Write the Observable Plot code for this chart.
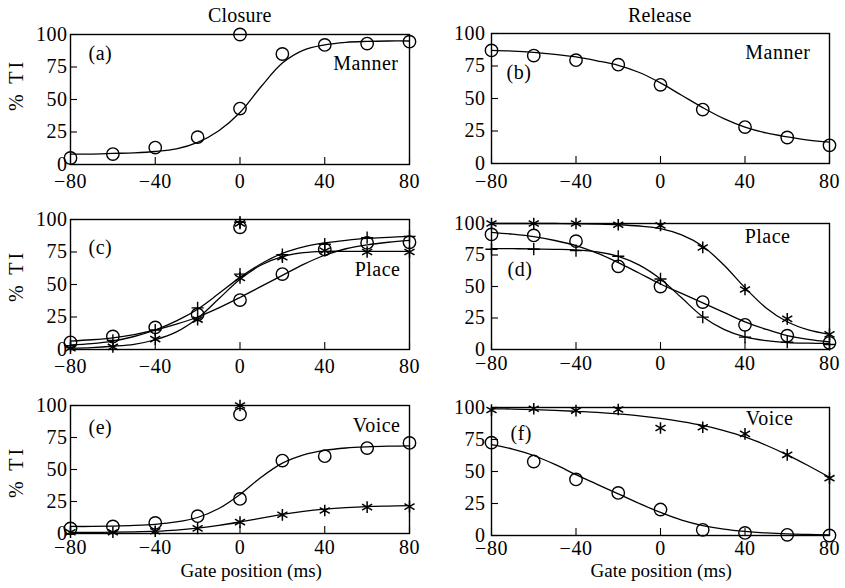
<!DOCTYPE html>
<html>
<head>
<meta charset="utf-8">
<script src="https://cdn.jsdelivr.net/npm/d3@7"></script>
<script src="https://cdn.jsdelivr.net/npm/@observablehq/plot@0.6"></script>
<style>
  html, body { margin: 0; padding: 0; background: white; }
  #wrap { position: relative; width: 845px; height: 588px; font-family: "Liberation Serif", "Times New Roman", serif; color: black; }
  #wrap svg { position: absolute; overflow: visible; }
  .lbl { position: absolute; font-size: 20px; letter-spacing: 0.2px; white-space: nowrap; line-height: 1; }
  .xlbl { position: absolute; font-size: 19px; letter-spacing: 0px; white-space: nowrap; line-height: 1; }
  .ylab { position: absolute; font-size: 20px; letter-spacing: 3px; white-space: nowrap; line-height: 1; transform-origin: center; }
</style>
</head>
<body>
<div id="wrap"></div>
<script>
// ---------- data ----------
const gates = [-80, -60, -40, -20, 0, 20, 40, 60, 80];
const fitGates = [-80, -70, -60, -50, -40, -30, -20, -10, 0, 10, 20, 30, 40, 50, 60, 70, 80];
const xTicks = [-80, -40, 0, 40, 80];
const yTicks = [0, 25, 50, 75, 100];
const columnTitles = ["Closure", "Release"];
const xTitle = "Gate position (ms)";
const yTitle = "% TI";

// (a) Closure – Manner
const aCircle = [5, 8, 13, 21, 43, 85, 92, 93, 94.5];
const aCircleFit = [8, 8, 8.5, 9, 10, 12, 17, 26, 40, 60, 78, 88, 92, 94, 94.7, 95, 95];
const aExtraCircle = [{x: 0, y: 100}];

// (b) Release – Manner
const bCircle = [87, 83, 79.5, 76, 60.5, 41.5, 28, 20, 14];
const bCircleFit = [87, 86.5, 85.5, 84, 82, 79, 75.5, 70, 62, 52.5, 43, 34.5, 28, 23.5, 20.5, 18, 16.5];

// (c) Closure – Place
const cCircle = [5.5, 10, 17, 27, 38, 58, 77, 82, 82.5];
const cPlus = [3, 7, 15, 32, 58, 73, 81, 86, 87];
const cStar = [1, 2, 8, 23, 55, 71, 76, 75, 75];
const cCircleFit = [6.5, 7.5, 9, 11.5, 15, 19.5, 25, 32, 40, 48.5, 57, 65.5, 72.5, 77.5, 80.5, 82.5, 84];
const cPlusFit = [3.5, 4.5, 6.5, 10, 15, 22, 31, 43, 55.5, 66, 74, 79, 82, 84, 85.5, 86.3, 87];
const cStarFit = [1, 1.5, 2.5, 4, 7.5, 13.5, 24, 39, 54, 65, 71.5, 74.5, 75.5, 75.5, 75.5, 75.5, 75.5];
const cBars = [{y: 95.5, x1: -10, x2: 10}, {y: 96.3, x1: -9, x2: 9.5}, {y: 97, x1: -8, x2: 8}];
const cExtraCircle = [{x: 0, y: 94}];
const cExtraPlus = [{x: 0, y: 98}];
const cExtraStar = [{x: 0, y: 97}];

// (d) Release – Place
const dCircle = [91.3, 90.5, 86, 66, 50, 37.6, 19.6, 11, 5.3];
const dPlus = [79.6, 79.6, 78.5, 74, 56, 25.7, 9.8, 5.8, 4];
const dStar = [100, 100, 100, 99, 98.5, 81, 47.6, 24.3, 12];
const dCircleFit = [93, 91.5, 89.5, 86.5, 82.5, 76.5, 69, 60.5, 52, 44.5, 37, 29.5, 22, 16, 11, 8, 6];
const dPlusFit = [80, 80, 79.8, 79.5, 79, 77.5, 74, 67, 56, 41, 26, 16, 10, 7, 5.5, 5, 4.8];
const dStarFit = [100, 100, 100, 100, 99.8, 99.5, 99, 98, 96, 91, 82, 67, 49, 33, 22, 15.5, 12];

// (e) Closure – Voice
const eCircle = [4, 5.5, 8.3, 13.5, 27, 57, 60.4, 66.7, 70.8];
const eStar = [1, 1, 1.8, 4, 8.9, 14.6, 18, 20.6, 21];
const eCircleFit = [5.5, 5.5, 5.8, 6.3, 7.2, 9, 12.5, 19.5, 30.5, 44, 55, 61.5, 65, 66.8, 67.7, 68.2, 68.5];
const eStarFit = [0.8, 0.9, 1, 1.3, 1.8, 2.7, 4.2, 6.3, 9, 12, 15, 17.3, 19, 20.2, 21, 21.4, 21.7];
const eBars = [{y: 93, x1: -10, x2: 10}];
const eExtraCircle = [{x: 0, y: 93}];
const eExtraStar = [{x: 0, y: 100}];

// (f) Release – Voice
const fCircle = [72.5, 57.8, 43.8, 33.3, 20.3, 4.4, 2, 0.5, 0];
const fStar = [98, 99, 97.6, 98.4, 84, 84.6, 79.4, 63, 44.8];
const fCircleFit = [71, 67.5, 62.5, 55.5, 47.5, 40, 32.5, 25, 18, 12, 7.8, 5, 3.2, 2, 1.2, 0.8, 0.5];
const fStarFit = [99, 98.8, 98.4, 97.8, 97, 96.2, 95, 93.5, 91.5, 89, 86, 82, 77, 70.5, 63, 54.5, 45.5];

// ---------- helpers ----------
const zip = (xs, ys) => xs.map((x, i) => ({x, y: ys[i]}));
const FONT = "Liberation Serif, Times New Roman, serif";
const wrap = document.getElementById("wrap");

function panel(p) {
  const ph = p.height - p.mt - p.mb;
  const pw = p.width - p.ml - p.mr;
  const marks = [
    Plot.frame({stroke: "black", strokeWidth: 1.4}),
    Plot.tickX(xTicks, {x: d => d, insetTop: ph - 7, stroke: "black", strokeWidth: 1.1}),
    Plot.tickY(yTicks, {y: d => d, insetRight: pw - 7, stroke: "black", strokeWidth: 1.1}),
    Plot.axisX(xTicks, {tickSize: 0, tickPadding: p.padX, label: null}),
    Plot.axisY(yTicks, {tickSize: 0, tickPadding: p.padY, label: null})
  ];
  for (const f of p.fits) {
    marks.push(Plot.line(zip(fitGates, f), {x: "x", y: "y", curve: "catmull-rom", stroke: "black", strokeWidth: 1.3}));
  }
  for (const b of (p.bars || [])) {
    marks.push(Plot.ruleY(b, {y: "y", x1: "x1", x2: "x2", stroke: "black", strokeWidth: 1.7}));
  }
  const sym = {
    circle: {symbol: "circle", r: 6.2, fill: "white", fillOpacity: 0, stroke: "black", strokeWidth: 1.4},
    plus: {symbol: "plus", r: 4, stroke: "black", strokeWidth: 1.4},
    star: {symbol: "asterisk", r: 5.5, stroke: "black", strokeWidth: 1.5}
  };
  for (const s of p.series) {
    marks.push(Plot.dot(s.data, {x: "x", y: "y", ...sym[s.kind]}));
  }
  marks.push(Plot.text([p.tag], {text: d => d, frameAnchor: "top-left", textAnchor: "start", lineAnchor: "middle", dx: p.tagPos[0], dy: p.tagPos[1]}));
  marks.push(Plot.text([p.name], {text: d => d, frameAnchor: "top-right", textAnchor: "end", lineAnchor: "middle", dx: p.namePos[0], dy: p.namePos[1]}));
  const svg = Plot.plot({
    width: p.width, height: p.height,
    marginTop: p.mt, marginBottom: p.mb, marginLeft: p.ml, marginRight: p.mr,
    style: {fontFamily: FONT, fontSize: "20px", color: "black", background: "transparent", letterSpacing: "0.5px"},
    x: {domain: [-80, 80]},
    y: {domain: [0, 100]},
    marks
  });
  svg.style.left = p.left + "px";
  svg.style.top = p.top + "px";
  wrap.appendChild(svg);
}

panel({left: 0, top: 0, width: 420, height: 190, ml: 70, mr: 11, mt: 34, mb: 26, padX: 9, padY: 3,
  fits: [aCircleFit],
  series: [{kind: "circle", data: zip(gates, aCircle)}, {kind: "circle", data: aExtraCircle}],
  tag: "(a)", tagPos: [18, 19], name: "Manner", namePos: [-11, 29]});

panel({left: 420, top: 0, width: 420, height: 190, ml: 71, mr: 11, mt: 33, mb: 27, padX: 10, padY: 6,
  fits: [bCircleFit],
  series: [{kind: "circle", data: zip(gates, bCircle)}],
  tag: "(b)", tagPos: [15, 39], name: "Manner", namePos: [-19, 19]});

panel({left: 0, top: 190, width: 420, height: 190, ml: 70, mr: 11, mt: 29, mb: 31, padX: 9, padY: 3,
  fits: [cCircleFit, cPlusFit, cStarFit], bars: cBars,
  series: [
    {kind: "circle", data: zip(gates, cCircle)}, {kind: "plus", data: zip(gates, cPlus)}, {kind: "star", data: zip(gates, cStar)},
    {kind: "circle", data: cExtraCircle}, {kind: "plus", data: cExtraPlus}, {kind: "star", data: cExtraStar}
  ],
  tag: "(c)", tagPos: [18, 28], name: "Place", namePos: [-9, 50]});

panel({left: 420, top: 190, width: 420, height: 190, ml: 71, mr: 11, mt: 33, mb: 31, padX: 6, padY: 6,
  fits: [dCircleFit, dPlusFit, dStarFit],
  series: [{kind: "circle", data: zip(gates, dCircle)}, {kind: "plus", data: zip(gates, dPlus)}, {kind: "star", data: zip(gates, dStar)}],
  tag: "(d)", tagPos: [16, 46], name: "Place", namePos: [-39, 13]});

panel({left: 0, top: 380, width: 420, height: 208, ml: 70, mr: 11, mt: 25, mb: 55, padX: 6, padY: 3,
  fits: [eCircleFit, eStarFit], bars: eBars,
  series: [
    {kind: "circle", data: zip(gates, eCircle)}, {kind: "star", data: zip(gates, eStar)},
    {kind: "circle", data: eExtraCircle}, {kind: "star", data: eExtraStar}
  ],
  tag: "(e)", tagPos: [18, 22], name: "Voice", namePos: [-9, 20]});

panel({left: 420, top: 380, width: 420, height: 208, ml: 71, mr: 11, mt: 27, mb: 53, padX: 5, padY: 6,
  fits: [fCircleFit, fStarFit],
  series: [{kind: "circle", data: zip(gates, fCircle)}, {kind: "star", data: zip(gates, fStar)}],
  tag: "(f)", tagPos: [19, 26], name: "Voice", namePos: [-36, 11]});

// ---------- outer labels ----------
function label(text, cx, cy, cls, rotate) {
  const d = document.createElement("div");
  d.className = cls;
  d.textContent = text;
  wrap.appendChild(d);
  const w = d.offsetWidth, h = d.offsetHeight;
  d.style.left = (cx - w / 2) + "px";
  d.style.top = (cy - h / 2) + "px";
  if (rotate) d.style.transform = `rotate(${rotate}deg)`;
}
label(columnTitles[0], 240, 15, "lbl");
label(columnTitles[1], 660, 15, "lbl");
label(xTitle, 251, 570, "xlbl");
label(xTitle, 661, 570, "xlbl");
label(yTitle, 16, 85, "ylab", -90);
label(yTitle, 16, 276, "ylab", -90);
label(yTitle, 16, 472, "ylab", -90);
</script>
</body>
</html>
